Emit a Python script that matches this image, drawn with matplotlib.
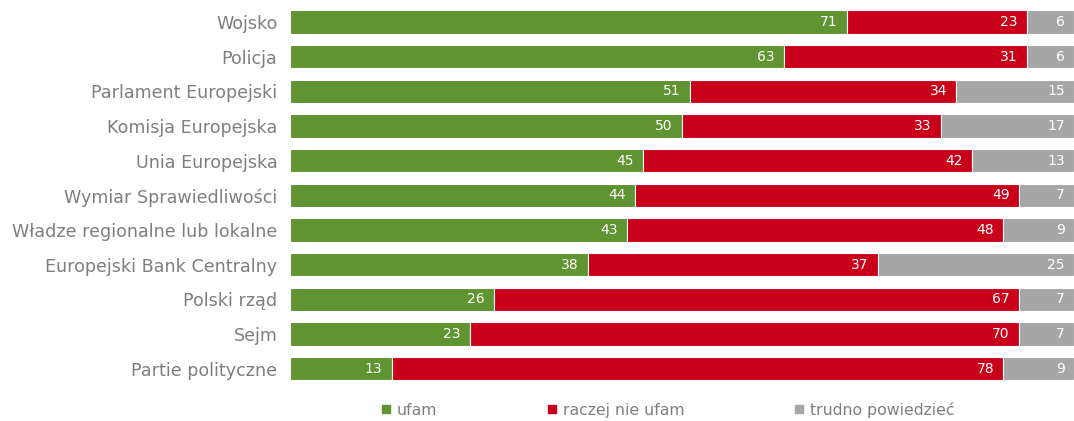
import numpy as np
import matplotlib.pyplot as plt
from matplotlib.lines import Line2D

# dane
kategorie = ["Wojsko", "Policja", "Parlament Europejski", "Komisja Europejska",
             "Unia Europejska", "Wymiar Sprawiedliwości", "Władze regionalne lub lokalne",
             "Europejski Bank Centralny", "Polski rząd", "Sejm", "Partie polityczne"]
ufam = [71, 63, 51, 50, 45, 44, 43, 38, 26, 23, 13]
nie_ufam = [23, 31, 34, 33, 42, 49, 48, 37, 67, 70, 78]
trudno = [6, 6, 15, 17, 13, 7, 9, 25, 7, 7, 9]
serie_nazwy = ["ufam", "raczej nie ufam", "trudno powiedzieć"]

KOLORY = ["#5F9430", "#C80019", "#A6A6A6"]
SZARY = "#7F7F7F"

plt.rcParams['font.family'] = ['DejaVu Sans']

fig = plt.figure(figsize=(10.74, 4.21), dpi=100)
ax = fig.add_axes([0.27, 0.083, 0.73, 0.906])

y = np.arange(len(kategorie))
left = np.zeros(len(kategorie))
for vals, kolor in zip([ufam, nie_ufam, trudno], KOLORY):
    vals = np.array(vals, dtype=float)
    bars = ax.barh(y, vals, left=left, height=0.67, color=kolor,
                   edgecolor="white", linewidth=0.8)
    for b, v in zip(bars, vals):
        ax.text(b.get_x() + b.get_width() - 1.2, b.get_y() + b.get_height() / 2,
                "{:d}".format(int(v)), ha="right", va="center",
                color="white", fontsize=10)
    left += vals

ax.set_xlim(0, 100)
ax.set_ylim(len(kategorie) - 0.5, -0.5)
ax.set_yticks(y)
ax.set_yticklabels(kategorie, fontsize=12.6, color=SZARY)
ax.tick_params(axis="y", length=0, pad=9)
ax.set_xticks([])
for s in ax.spines.values():
    s.set_visible(False)

# legenda
uchwyty = [Line2D([], [], marker="s", linestyle="none", markersize=6,
                  color=k) for k in KOLORY]
fig.legend(uchwyty, serie_nazwy, loc="center", bbox_to_anchor=(0.621, 0.027),
           ncol=3, frameon=False, fontsize=11.3, labelcolor=SZARY,
           handletextpad=0.3, columnspacing=6.9, handlelength=0.8)

plt.savefig("out.png", dpi=100)
